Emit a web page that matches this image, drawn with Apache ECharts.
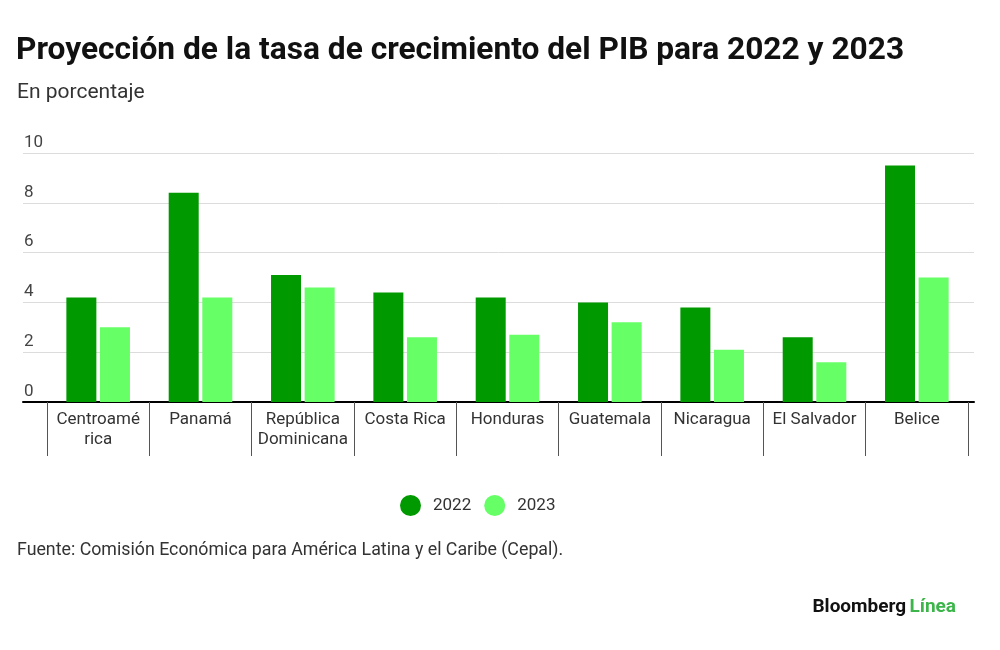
<!DOCTYPE html>
<html>
<head>
<meta charset="utf-8">
<script src="https://cdn.jsdelivr.net/npm/echarts@6/dist/echarts.min.js"></script>
<style>
html,body{margin:0;padding:0;background:#fff;}
#chart{width:1000px;height:650px;}
</style>
</head>
<body>
<div id="chart"></div>
<script>
const categories = ['Centroamé\nrica', 'Panamá', 'República\nDominicana', 'Costa Rica', 'Honduras', 'Guatemala', 'Nicaragua', 'El Salvador', 'Belice'];
const values2022 = [4.2, 8.4, 5.1, 4.4, 4.2, 4.0, 3.8, 2.6, 9.5];
const values2023 = [3.0, 4.2, 4.6, 2.6, 2.7, 3.2, 2.1, 1.6, 5.0];
const yTicks = { min: 0, max: 10, interval: 2 };

const FONT = 'Roboto';
const chart = echarts.init(document.getElementById('chart'));
chart.setOption({
  backgroundColor: '#ffffff',
  animation: false,
  textStyle: { fontFamily: FONT },
  title: [
    { text: 'Proyección de la tasa de crecimiento del PIB para 2022 y 2023', left: 16, top: 35, padding: 0,
      textStyle: { fontFamily: FONT, fontWeight: 'bold', fontSize: 31.7, color: '#111' } },
    { text: 'En porcentaje', left: 17, top: 82, padding: 0,
      textStyle: { fontFamily: FONT, fontWeight: 'normal', fontSize: 21, color: '#333' } },
    { text: 'Fuente: Comisión Económica para América Latina y el Caribe (Cepal).', left: 17, top: 542, padding: 0,
      textStyle: { fontFamily: FONT, fontWeight: 'normal', fontSize: 17.8, color: '#333' } }
  ],
  graphic: [{
    type: 'text', right: 44, top: 598,
    style: {
      text: '{a|Bloomberg} {b|Línea}',
      rich: {
        a: { fontFamily: FONT, fontWeight: 'bold', fontSize: 19, fill: '#111' },
        b: { fontFamily: FONT, fontWeight: 'bold', fontSize: 19, fill: '#3cb54a' }
      }
    }
  }],
  legend: {
    left: 400, top: 495, padding: 0,
    icon: 'circle', itemWidth: 21, itemHeight: 21, itemGap: 13,
    textStyle: { fontFamily: FONT, fontSize: 17, color: '#333', padding: [0, 0, 0, 7] },
    data: ['2022', '2023']
  },
  grid: [
    { left: 23, right: 26, top: 153, bottom: 248 },
    { left: 47, right: 32, top: 153, bottom: 248 }
  ],
  xAxis: [
    { gridIndex: 0, type: 'value', min: 0, max: 1,
      axisLine: { show: true, onZero: false, lineStyle: { color: '#000', width: 2 } },
      axisTick: { show: false }, axisLabel: { show: false }, splitLine: { show: false } },
    { gridIndex: 1, type: 'category', data: categories,
      axisLine: { show: false },
      axisTick: { show: true, length: 54, lineStyle: { color: '#555', width: 1 } },
      axisLabel: { fontFamily: FONT, fontSize: 17, color: '#333', lineHeight: 20, margin: 8, interval: 0 } }
  ],
  yAxis: [
    { gridIndex: 0, type: 'value', min: yTicks.min, max: yTicks.max, interval: yTicks.interval,
      axisLine: { show: false }, axisTick: { show: false },
      axisLabel: { inside: true, margin: 1, verticalAlign: 'bottom', padding: [0, 0, 2, 0],
        fontFamily: FONT, fontSize: 17, color: '#444' },
      splitLine: { lineStyle: { color: '#dcdcdc', width: 1 } } },
    { gridIndex: 1, type: 'value', min: yTicks.min, max: yTicks.max, interval: yTicks.interval, show: false,
      splitLine: { show: false } }
  ],
  series: [
    { name: '2022', type: 'bar', xAxisIndex: 1, yAxisIndex: 1, data: values2022,
      barWidth: 30, barGap: '12%', itemStyle: { color: '#009900' } },
    { name: '2023', type: 'bar', xAxisIndex: 1, yAxisIndex: 1, data: values2023,
      barWidth: 30, barGap: '12%', itemStyle: { color: '#66ff66' } }
  ]
});
</script>
</body>
</html>
